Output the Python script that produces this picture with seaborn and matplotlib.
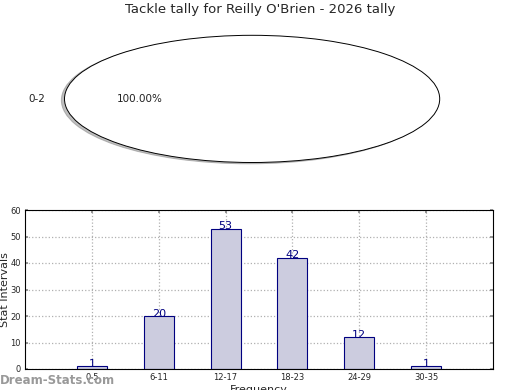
import matplotlib
matplotlib.use("Agg")
import matplotlib.pyplot as plt
import seaborn as sns
import pandas as pd

title = "Tackle tally for Reilly O'Brien - 2026 tally"
pie_labels = ["0-2"]
pie_values = [1]
categories = ["0-5", "6-11", "12-17", "18-23", "24-29", "30-35"]
counts = [1, 20, 53, 42, 12, 1]
yticks = [0, 10, 20, 30, 40, 50, 60]

sns.set_theme(style="white")
plt.rcParams['font.family'] = ['DejaVu Sans']

fig = plt.figure(figsize=(5.2, 3.9), dpi=100)
W, H = 520, 390

# Pie axes
pie_ax = fig.add_axes([17.6 / W, (H - 178.4) / H, 469 / W, 159 / H])
pie_ax.pie(pie_values, labels=pie_labels, autopct="%1.2f%%",
           shadow={"ox": -0.012, "oy": -0.015, "shade": 0.5},
           colors=["white"], wedgeprops=dict(edgecolor="black", linewidth=0.7),
           textprops=dict(fontsize=7.5, color="#222222"))
pie_ax.set_aspect("auto")
pie_ax.set_xlim(-1.25, 1.25)
pie_ax.set_ylim(-1.25, 1.25)
pie_ax.axis("off")

fig.text(0.5, (H - 10) / H, title, ha="center", va="center", fontsize=9.5)

# Bar axes
ax = fig.add_axes([25 / W, (H - 369) / H, 468 / W, 159 / H])
df = pd.DataFrame({"cat": categories, "count": counts})
sns.barplot(data=df, x="cat", y="count", order=categories, width=0.45,
            color="#ccccdf", edgecolor="#000080", linewidth=0.8, saturation=1,
            ax=ax, zorder=2)
for i, v in enumerate(counts):
    ax.text(i, v - 1.0, str(v), ha="center", va="bottom", fontsize=8,
            color="#000080", zorder=3)
ax.set_xlim(-1, 6)
ax.set_ylim(0, 60)
ax.set_yticks(yticks)
ax.grid(True, linestyle=":", color="#b0b0b0", linewidth=0.9, zorder=0)
ax.set_axisbelow(True)
ax.tick_params(axis="both", labelsize=6, direction="in", length=2,
               top=True, right=True, bottom=True, left=True, pad=3, color="#888888")
for s in ax.spines.values():
    s.set_color("black")
    s.set_linewidth(0.8)
ax.set_xlabel("Frequency", fontsize=8, labelpad=2)
ax.set_ylabel("Stat Intervals", fontsize=8, labelpad=0)

fig.text(0.0, (H - 380) / H, "Dream-Stats.com", ha="left", va="center",
         fontsize=8.5, color="#999999", fontweight="bold")

fig.savefig("out.png", dpi=100)
